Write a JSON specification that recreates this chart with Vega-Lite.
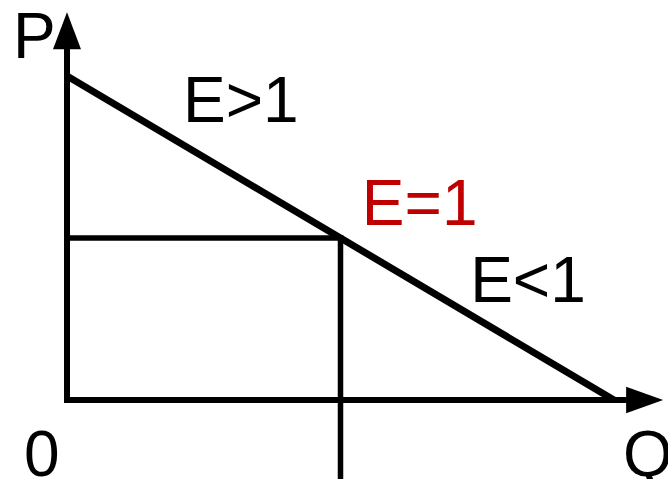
{
  "$schema": "https://vega.github.io/schema/vega-lite/v6.json",
  "width": 668,
  "height": 479,
  "autosize": {"type": "none"},
  "padding": 0,
  "background": "white",
  "config": {"view": {"stroke": null}},
  "datasets": {
    "axes": [
      {"q": 0, "p": 0, "q2": 0, "p2": 11.4, "name": "P axis"},
      {"q": 0, "p": 0, "q2": 10.56, "p2": 0, "name": "Q axis"}
    ],
    "guides": [
      {"q": 0, "p": 5, "q2": 5, "p2": 5},
      {"q": 5, "p": 5, "q2": 5, "p2": -2.43}
    ],
    "demand": [
      {"q": 0, "p": 10, "q2": 10, "p2": 0}
    ],
    "arrows": [
      {"q": 0, "p": 11.4, "dir": "up"},
      {"q": 10.56, "p": 0, "dir": "right"}
    ],
    "labels": [
      {"q": -0.987, "p": 10.556, "text": "P", "kind": "black"},
      {"q": 2.12, "p": 8.58, "text": "E>1", "kind": "black"},
      {"q": 5.39, "p": 5.4, "text": "E=1", "kind": "red"},
      {"q": 7.37, "p": 3.02, "text": "E<1", "kind": "black"},
      {"q": -0.786, "p": -2.35, "text": "0", "kind": "black"},
      {"q": 10.165, "p": -2.35, "text": "Q", "kind": "black"}
    ]
  },
  "layer": [
    {
      "data": {"name": "axes"},
      "mark": {"type": "rule", "color": "black", "strokeWidth": 6, "strokeCap": "square"},
      "encoding": {
        "x": {"field": "q", "type": "quantitative", "axis": null, "scale": {"domain": [-1.2249, 10.987], "nice": false, "zero": false}},
        "y": {"field": "p", "type": "quantitative", "axis": null, "scale": {"domain": [-2.438, 12.346], "nice": false, "zero": false}},
        "x2": {"field": "q2"},
        "y2": {"field": "p2"}
      }
    },
    {
      "data": {"name": "guides"},
      "mark": {"type": "rule", "color": "black", "strokeWidth": 5.5, "strokeCap": "square"},
      "encoding": {
        "x": {"field": "q", "type": "quantitative"},
        "y": {"field": "p", "type": "quantitative"},
        "x2": {"field": "q2"},
        "y2": {"field": "p2"}
      }
    },
    {
      "data": {"name": "demand"},
      "mark": {"type": "rule", "color": "black", "strokeWidth": 7, "strokeCap": "butt"},
      "encoding": {
        "x": {"field": "q", "type": "quantitative"},
        "y": {"field": "p", "type": "quantitative"},
        "x2": {"field": "q2"},
        "y2": {"field": "p2"}
      }
    },
    {
      "data": {"name": "arrows"},
      "transform": [{"filter": "datum.dir === 'up'"}],
      "mark": {"type": "point", "filled": true, "color": "black", "opacity": 1, "size": 1369, "shape": "M0,-1L-0.757,1L0.757,1Z"},
      "encoding": {
        "x": {"field": "q", "type": "quantitative"},
        "y": {"field": "p", "type": "quantitative"}
      }
    },
    {
      "data": {"name": "arrows"},
      "transform": [{"filter": "datum.dir === 'right'"}],
      "mark": {"type": "point", "filled": true, "color": "black", "opacity": 1, "size": 1369, "shape": "M1,0L-1,-0.72L-1,0.72Z"},
      "encoding": {
        "x": {"field": "q", "type": "quantitative"},
        "y": {"field": "p", "type": "quantitative"}
      }
    },
    {
      "data": {"name": "labels"},
      "mark": {"type": "text", "font": "Liberation Sans", "fontSize": 64, "align": "left", "baseline": "alphabetic"},
      "encoding": {
        "x": {"field": "q", "type": "quantitative"},
        "y": {"field": "p", "type": "quantitative"},
        "text": {"field": "text"},
        "color": {"field": "kind", "type": "nominal", "scale": {"domain": ["black", "red"], "range": ["#000000", "#C00000"]}, "legend": null}
      }
    }
  ]
}
